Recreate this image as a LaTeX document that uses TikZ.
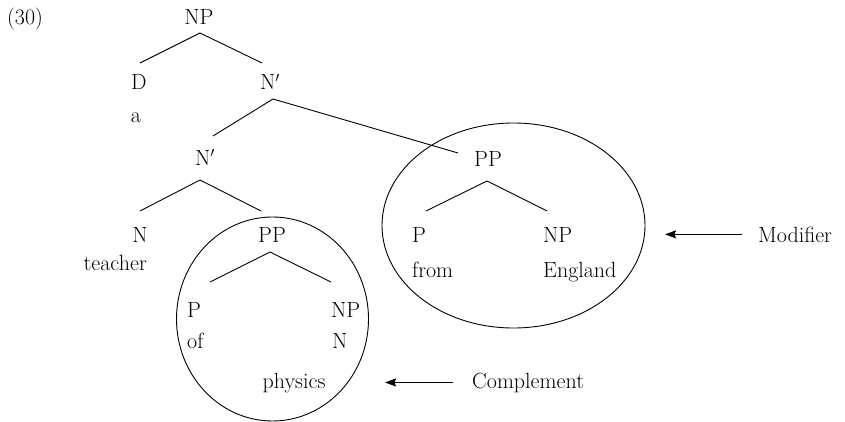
\documentclass[tikz,border=0pt]{standalone}
\usepackage{fontspec}
\usetikzlibrary{arrows.meta,shapes.geometric}
\begin{document}
\begin{tikzpicture}[x=1pt,y=-1pt,
  lab/.style={inner sep=0pt,font=\fontsize{22}{26}\selectfont},
  lb/.style={lab,anchor=base},
  lw/.style={lab,anchor=base west},
  le/.style={lab,anchor=base east},
  branch/.style={line width=0.9pt},
  ring/.style={draw,ellipse,line width=0.9pt,inner sep=0pt},
  pointer/.style={line width=0.9pt,-{Stealth[length=11pt,width=8pt,inset=1.5pt]}}]
\useasboundingbox (0,0) rectangle (845,422);
% enclosing ellipses
\node[ring,minimum width=192pt,minimum height=204pt] (ringA) at (272.5,319) {};
\node[ring,minimum width=263pt,minimum height=205pt] (ringB) at (513.5,225.5) {};
% labels
\node[lw] (ex) at (7,25) {(30)};
\node[lb] (np) at (199,25) {NP};
\node[lb] (d) at (139,90) {D};
\node[lb] (nbar1) at (270,90) {N$'$};
\node[lb] (a) at (136,123) {a};
\node[lb] (nbar2) at (205,165) {N$'$};
\node[lb] (n) at (140,242) {N};
\node[le] (teacher) at (147,270) {teacher};
\node[lb] (pp1) at (272,242) {PP};
\node[lw] (p1) at (187,317) {P};
\node[lw] (np1) at (331,317) {NP};
\node[lw] (of) at (187,348) {of};
\node[lw] (n1) at (332,348) {N};
\node[lb] (physics) at (294,388) {physics};
\node[lb] (pp2) at (488,167) {PP};
\node[lw] (p2) at (412,242) {P};
\node[lw] (np2) at (543,242) {NP};
\node[lw] (from) at (412,277) {from};
\node[lw] (england) at (543,277) {England};
\node[lw] (modifier) at (758,242) {Modifier};
\node[lw] (complement) at (472,388) {Complement};
% branches
\draw[branch] ([shift={(1,8)}]np.base) -- ([shift={(1,-27)}]d.base);
\draw[branch] ([shift={(1,8)}]np.base) -- ([shift={(-8,-27)}]nbar1.base);
\draw[branch] ([shift={(3,9)}]nbar1.base) -- ([shift={(8,-29)}]nbar2.base);
\draw[branch] ([shift={(3,9)}]nbar1.base) -- ([shift={(-30,-14)}]pp2.base);
\draw[branch] ([shift={(-5,15)}]nbar2.base) -- ([shift={(0,-31)}]n.base);
\draw[branch] ([shift={(-5,15)}]nbar2.base) -- ([shift={(-11,-31)}]pp1.base);
\draw[branch] ([shift={(-2,10)}]pp1.base) -- ([shift={(23,-35)}]p1.base west);
\draw[branch] ([shift={(-2,10)}]pp1.base) -- ([shift={(0,-35)}]np1.base west);
\draw[branch] ([shift={(-1,14)}]pp2.base) -- ([shift={(14,-31)}]p2.base west);
\draw[branch] ([shift={(-1,14)}]pp2.base) -- ([shift={(4,-31)}]np2.base west);
% pointers
\coordinate (modtip) at (665,235);
\coordinate (comptip) at (385,382);
\draw[pointer] ([xshift=-16pt]modifier.west) -- (modtip |- modifier.west);
\draw[pointer] ([xshift=-19pt]complement.west) -- (comptip |- complement.west);
\end{tikzpicture}
\end{document}
